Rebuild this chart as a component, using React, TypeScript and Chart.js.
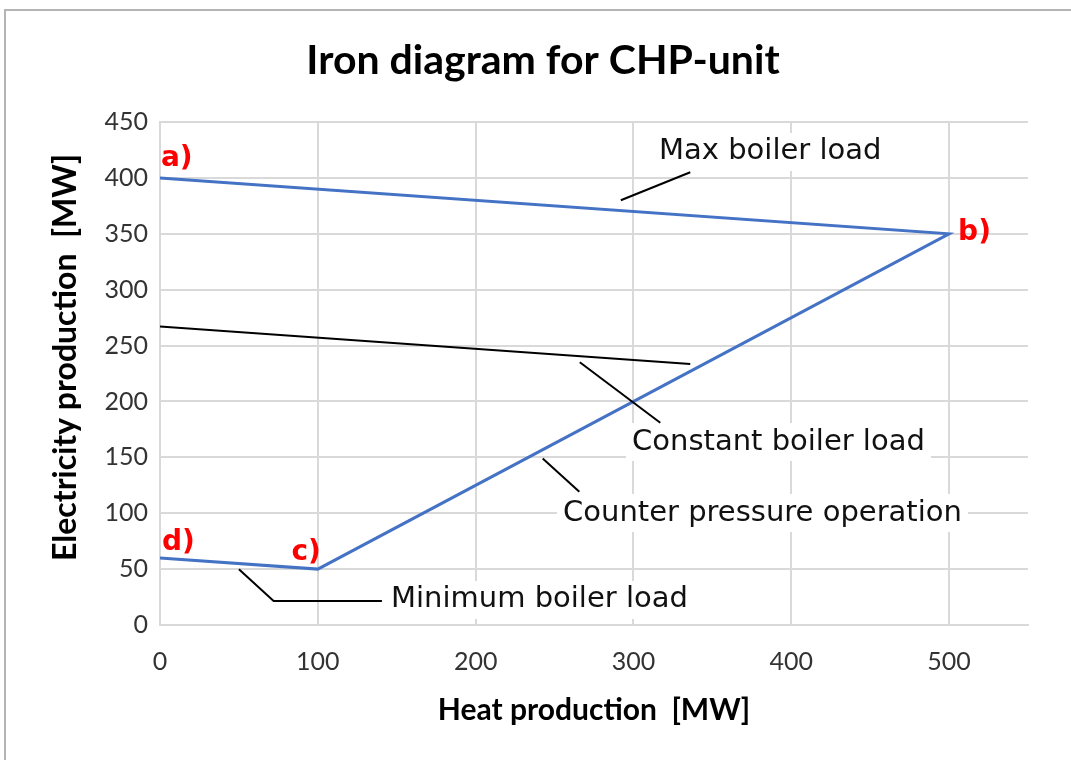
import React, { useEffect, useRef } from "react";
import { Chart, registerables } from "chart.js";

Chart.register(...registerables);

// Operating region (blue): a) -> b) -> c) -> d)
const heatOperating = [0, 500, 100, 0];
const elecOperating = [400, 350, 50, 60];

// Constant boiler load line (black)
const heatConstant = [0, 336];
const elecConstant = [267, 233.4];

// Leader lines for the notes
const leaderMaxX = [292, 336];
const leaderMaxY = [380, 405];
const leaderConstX = [266, 317];
const leaderConstY = [235, 181];
const leaderCounterX = [242.5, 265.7];
const leaderCounterY = [149, 119.3];
const leaderMinX = [50, 72, 140.6];
const leaderMinY = [49.8, 21.5, 21.5];

// Axis ticks
const xTicks = [0, 100, 200, 300, 400, 500];
const yTicks = [0, 50, 100, 150, 200, 250, 300, 350, 400, 450];

// Texts
const chartTitle = "Iron diagram for CHP-unit";
const xTitle = "Heat production  [MW]";
const yTitle = "Electricity production  [MW]";

// Point labels (anchored in data coordinates, left-middle)
const pointLabels = ["a)", "b)", "c)", "d)"];
const pointLabelX = [0.6, 505.7, 83.3, 1.3];
const pointLabelY = [417, 350.7, 64.9, 73.4];

// Notes (anchored in data coordinates, left-middle)
const noteLabels = [
  "Max boiler load",
  "Constant boiler load",
  "Counter pressure operation",
  "Minimum boiler load",
];
const noteX = [316.2, 299.1, 255.4, 146.4];
const noteY = [423.2, 163.7, 100.2, 22.4];

const toPts = (xs: number[], ys: number[]) => xs.map((x, i) => ({ x, y: ys[i] }));

const NOTE_FONT = '29px "DejaVu Sans"';
const POINT_FONT = 'bold 28px "DejaVu Sans"';
const TITLE_FONT = "bold 41px Lato";
const YTITLE_FONT = "bold 32px Lato";

const notesPlugin = {
  id: "notesPlugin",
  beforeDatasetsDraw(chart: any) {
    const { ctx, scales } = chart;
    const x = scales.x;
    const y = scales.y;
    ctx.save();
    ctx.font = NOTE_FONT;
    ctx.fillStyle = "#ffffff";
    noteLabels.forEach((t, i) => {
      const px = x.getPixelForValue(noteX[i]);
      const py = y.getPixelForValue(noteY[i]);
      const w = ctx.measureText(t).width;
      ctx.fillRect(px - 6, py - 19, w + 12, 38);
    });
    ctx.restore();
  },
  afterDatasetsDraw(chart: any) {
    const { ctx, scales } = chart;
    const x = scales.x;
    const y = scales.y;
    ctx.save();
    ctx.textAlign = "left";
    ctx.textBaseline = "middle";
    ctx.font = NOTE_FONT;
    ctx.fillStyle = "#111111";
    noteLabels.forEach((t, i) => {
      ctx.fillText(t, x.getPixelForValue(noteX[i]), y.getPixelForValue(noteY[i]));
    });
    ctx.font = POINT_FONT;
    ctx.fillStyle = "#ff0000";
    pointLabels.forEach((t, i) => {
      ctx.fillText(t, x.getPixelForValue(pointLabelX[i]), y.getPixelForValue(pointLabelY[i]));
    });
    ctx.restore();
  },
  afterDraw(chart: any) {
    const { ctx, chartArea } = chart;
    ctx.save();
    ctx.fillStyle = "#000000";
    ctx.textAlign = "center";
    ctx.textBaseline = "middle";
    ctx.font = TITLE_FONT;
    ctx.fillText(chartTitle, 543, 61);
    ctx.font = YTITLE_FONT;
    ctx.translate(66, (chartArea.top + chartArea.bottom) / 2 - 16);
    ctx.rotate(-Math.PI / 2);
    ctx.fillText(yTitle, 0, 0);
    ctx.restore();
  },
};

export default function App() {
  const canvasRef = useRef<HTMLCanvasElement | null>(null);

  useEffect(() => {
    if (!canvasRef.current) return;
    const blackLine = (xs: number[], ys: number[]) => ({
      data: toPts(xs, ys),
      borderColor: "#000000",
      borderWidth: 2,
      pointRadius: 0,
      tension: 0,
      fill: false,
    });
    const chart = new Chart(canvasRef.current, {
      type: "line",
      data: {
        datasets: [
          blackLine(heatConstant, elecConstant),
          blackLine(leaderMaxX, leaderMaxY),
          blackLine(leaderConstX, leaderConstY),
          blackLine(leaderCounterX, leaderCounterY),
          blackLine(leaderMinX, leaderMinY),
          {
            data: toPts(heatOperating, elecOperating),
            borderColor: "#4472C4",
            borderWidth: 3,
            pointRadius: 0,
            tension: 0,
            fill: false,
          },
        ],
      },
      options: {
        responsive: false,
        animation: false,
        devicePixelRatio: 1,
        layout: { padding: { left: 0, right: 43, top: 122, bottom: 0 } },
        plugins: {
          legend: { display: false },
          tooltip: { enabled: false },
          title: { display: false },
        },
        scales: {
          x: {
            type: "linear",
            min: 0,
            max: 550,
            afterBuildTicks: (s: any) => {
              s.ticks = xTicks.map((v) => ({ value: v }));
            },
            afterFit: (s: any) => {
              s.height = 135;
            },
            grid: { color: "#d9d9d9", lineWidth: 2, drawTicks: false },
            border: { color: "#d9d9d9", width: 2 },
            ticks: {
              font: { family: "Lato", size: 25 },
              color: "#333333",
              padding: 22,
              maxRotation: 0,
              autoSkip: false,
            },
            title: {
              display: true,
              text: xTitle,
              color: "#000000",
              font: { family: "Lato", size: 30, weight: "bold" },
              padding: { top: 0, bottom: 32 },
            },
          },
          y: {
            type: "linear",
            min: 0,
            max: 450,
            afterBuildTicks: (s: any) => {
              s.ticks = yTicks.map((v) => ({ value: v }));
            },
            afterFit: (s: any) => {
              s.width = 160;
            },
            grid: { color: "#d9d9d9", lineWidth: 2, drawTicks: false },
            border: { color: "#d9d9d9", width: 2 },
            ticks: {
              font: { family: "Lato", size: 25 },
              color: "#333333",
              padding: 12,
              autoSkip: false,
            },
            title: { display: false },
          },
        },
      },
      plugins: [notesPlugin],
    } as any);
    return () => chart.destroy();
  }, []);

  return (
    <div
      style={{
        position: "absolute",
        left: 0,
        top: 0,
        width: 1071,
        height: 760,
        background: "#ffffff",
        overflow: "hidden",
      }}
    >
      <canvas ref={canvasRef} width={1071} height={760} style={{ display: "block" }} />
      <div
        style={{
          position: "absolute",
          left: 4,
          top: 9,
          width: 1067,
          height: 751,
          borderLeft: "2px solid #b4b4b4",
          borderTop: "2px solid #b4b4b4",
          boxSizing: "border-box",
          pointerEvents: "none",
        }}
      />
    </div>
  );
}
